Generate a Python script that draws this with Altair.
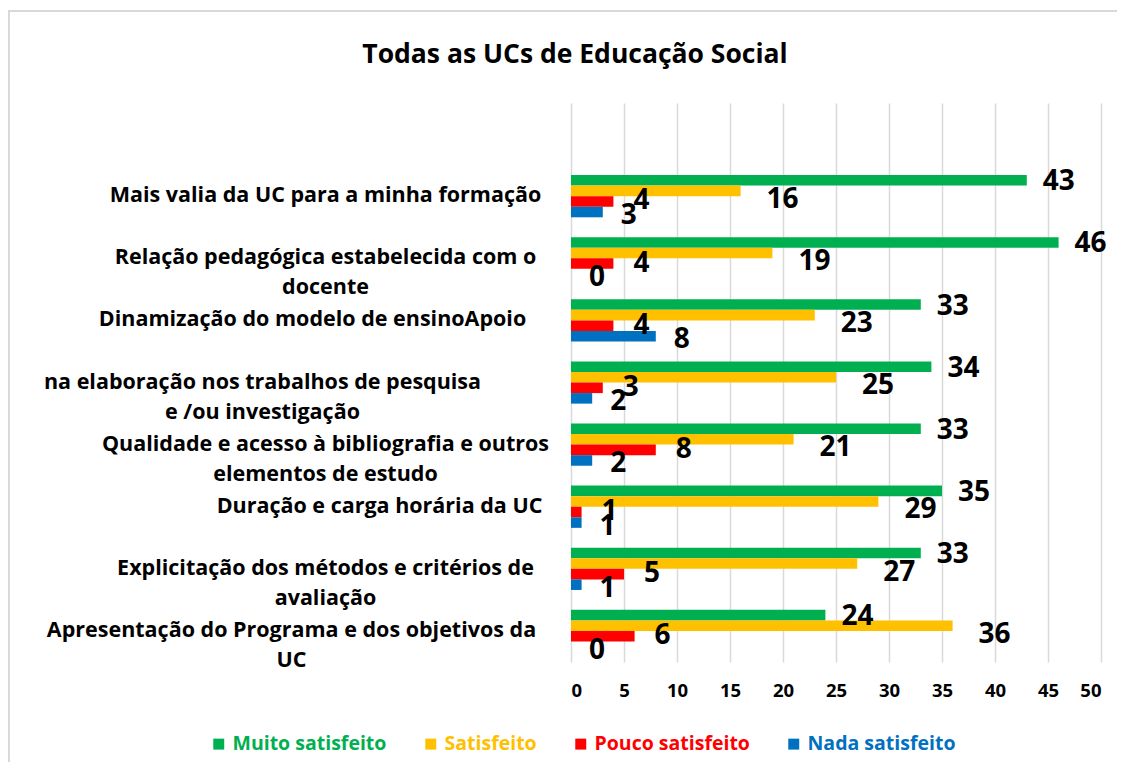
import altair as alt
import pandas as pd

F = "Open Sans"

categories = [
    "Mais valia da UC para a minha formação",
    "Relação pedagógica estabelecida com o|docente",
    "Dinamização do modelo de ensinoApoio",
    "na elaboração nos trabalhos de pesquisa|e /ou investigação",
    "Qualidade e acesso à bibliografia e outros|elementos de estudo",
    "Duração e carga horária da UC",
    "Explicitação dos métodos e critérios de|avaliação",
    "Apresentação do Programa e dos objetivos da|UC",
]
series = ["Muito satisfeito", "Satisfeito", "Pouco satisfeito", "Nada satisfeito"]
muito = [43, 46, 33, 34, 33, 35, 33, 24]
satisfeito = [16, 19, 23, 25, 21, 29, 27, 36]
pouco = [4, 4, 4, 3, 8, 1, 5, 6]
nada = [3, 0, 8, 2, 2, 1, 1, 0]
colors = ["#00B050", "#FFC000", "#FF0000", "#0070C0"]
x_ticks = [0, 5, 10, 15, 20, 25, 30, 35, 40, 45, 50]
title = "Todas as UCs de Educação Social"

rows = []
for s, vals in zip(series, [muito, satisfeito, pouco, nada]):
    for c, v in zip(categories, vals):
        rows.append({"cat": c, "serie": s, "valor": v})
df = pd.DataFrame(rows)

color_expr = " : ".join(
    f"datum.label == '{s}' ? '{c}'" for s, c in zip(series[:-1], colors[:-1])
) + f" : '{colors[-1]}'"

y_enc = alt.Y(
    "cat:N",
    scale=alt.Scale(domain=[" "] + categories, paddingInner=0.32, paddingOuter=0.16),
    axis=alt.Axis(
        title=None,
        labelExpr="split(datum.label, '|')",
        labelFont=F,
        labelFontSize=21.5,
        labelFontWeight="bold",
        labelColor="black",
        labelAlign="center",
        labelBaseline="middle",
        labelLineHeight=30,
        labelLimit=0,
        labelPadding={
            "condition": [
                {"test": f"datum.value == '{categories[5]}'", "value": 192},
                {"test": f"datum.value == '{categories[7]}'", "value": 280},
                {"test": f"datum.value == '{categories[3]}'", "value": 309},
                {"test": f"datum.value == '{categories[2]}'", "value": 259},
            ],
            "value": 246,
        },
        ticks=False,
        domain=False,
        grid=False,
    ),
)
yoff = alt.YOffset("serie:N", sort=series, scale=alt.Scale(domain=series, paddingInner=0, paddingOuter=0))

x_enc = alt.X(
    "valor:Q",
    scale=alt.Scale(domain=[0, 50], nice=False),
    axis=alt.Axis(
        values=x_ticks,
        title=None,
        grid=True,
        gridColor="#d9d9d9",
        gridWidth=1.5,
        domain=False,
        ticks=False,
        labelFont=F,
        labelFontSize=18.5,
        labelFontWeight="bold",
        labelColor="black",
        labelPadding=19,
    ),
)

bars = alt.Chart(df).mark_bar().encode(
    x=x_enc,
    y=y_enc,
    yOffset=yoff,
    color=alt.Color(
        "serie:N",
        sort=series,
        scale=alt.Scale(domain=series, range=colors),
        legend=alt.Legend(
            title=None,
            orient="none",
            legendX=-362,
            legendY=631,
            direction="horizontal",
            symbolType="square",
            symbolSize=120,
            symbolStrokeWidth=0,
            labelFont=F,
            labelFontSize=19.5,
            labelFontWeight="bold",
            labelColor=alt.ExprRef(color_expr),
            labelLimit=0,
            columnPadding=34,
            labelOffset=4,
        ),
    ),
)

# one label layer per series, each with its own offset from the bar end
label_style = {
    "Muito satisfeito": (16, 2),
    "Satisfeito": (26, 9),
    "Pouco satisfeito": (20, 0),
    "Nada satisfeito": (18, 4),
}
label_layers = []
for s in series:
    dx, dy = label_style[s]
    label_layers.append(
        alt.Chart(df).transform_filter(alt.datum.serie == s).mark_text(
            align="left", baseline="middle", dx=dx, dy=dy,
            font=F, fontSize=28, fontWeight="bold", color="black",
        ).encode(
            x="valor:Q", y=alt.Y("cat:N"),
            yOffset=alt.YOffset("serie:N", sort=series), text="valor:Q",
        )
    )

frame = alt.Chart(alt.Data(values=[{}])).mark_rect(
    fill=None, stroke="#d9d9d9", strokeWidth=2
).encode(x=alt.value(-562), x2=alt.value(600), y=alt.value(-92), y2=alt.value(700))

chart = alt.layer(frame, bars, *label_layers).properties(
    width=530,
    height=559,
    title=alt.TitleParams(
        title, font=F, fontSize=26.5, fontWeight="bold", color="black",
        anchor="middle", dx=-261, offset=-58,
    ),
    padding={"left": 563, "top": 95, "right": 16, "bottom": 100},
    autosize=alt.AutoSizeParams(type="none"),
).configure_view(stroke=None)

chart.save("out.html", embed_options={"renderer": "svg", "actions": False})
